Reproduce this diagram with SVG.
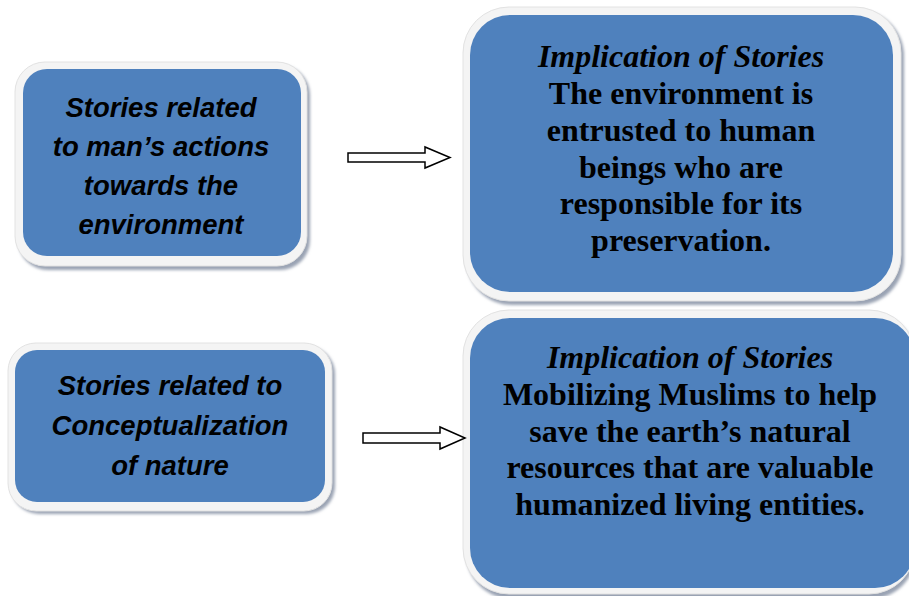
<svg xmlns="http://www.w3.org/2000/svg" width="909" height="596" viewBox="0 0 909 596">
<defs>
<filter id="sh" x="-5%" y="-5%" width="115%" height="115%">
<feGaussianBlur stdDeviation="1.5"/>
</filter>
</defs>
<style>
.shadow{fill:#9aa3b3;filter:url(#sh)}
.frame{fill:#f4f4f4;stroke:#e2e2e2;stroke-width:1}
.box{fill:#4f81bd}
.sans{font-family:"Liberation Sans",Arial,sans-serif;font-weight:bold;font-style:italic;font-size:27.5px;fill:#000;text-anchor:middle}
.serif{font-family:"Liberation Serif","Times New Roman",serif;font-weight:bold;font-size:32px;fill:#000;text-anchor:middle}
.it{font-style:italic}
.arrow{fill:#fff;stroke:#000;stroke-width:1.5;stroke-linejoin:miter}
</style>
<rect width="909" height="596" fill="#fff"/>
<g id="node1">
<rect class="shadow" x="18" y="65" width="292" height="205" rx="30"/>
<rect class="frame" x="15" y="62" width="292" height="204" rx="30"/>
<rect class="box" x="23" y="69" width="278" height="187" rx="24"/>
<text class="sans"><tspan x="161" y="117">Stories related</tspan><tspan x="161" y="156">to man’s actions</tspan><tspan x="161" y="195">towards the</tspan><tspan x="161" y="234">environment</tspan></text>
</g>
<g id="node2">
<rect class="shadow" x="466" y="10" width="438" height="295" rx="46"/>
<rect class="frame" x="463" y="7" width="438" height="294" rx="46"/>
<rect class="box" x="470" y="15" width="423" height="277" rx="40"/>
<text class="serif"><tspan class="it" x="681" y="67">Implication of Stories</tspan><tspan x="681" y="104">The environment is</tspan><tspan x="681" y="141">entrusted to human</tspan><tspan x="681" y="178">beings who are</tspan><tspan x="681" y="214">responsible for its</tspan><tspan x="681" y="251">preservation.</tspan></text>
</g>
<g id="node3">
<rect class="shadow" x="11" y="346" width="324" height="168" rx="28"/>
<rect class="frame" x="8" y="343" width="324" height="168" rx="28"/>
<rect class="box" x="15" y="350" width="310" height="152" rx="22"/>
<text class="sans"><tspan x="170" y="395">Stories related to</tspan><tspan x="170" y="435">Conceptualization</tspan><tspan x="170" y="475">of nature</tspan></text>
</g>
<g id="node4">
<rect class="shadow" x="466" y="313" width="450" height="286" rx="46"/>
<rect class="frame" x="463" y="310" width="452" height="284" rx="46"/>
<rect class="box" x="470" y="318" width="445" height="270" rx="40"/>
<text class="serif"><tspan class="it" x="690" y="368">Implication of Stories</tspan><tspan x="690" y="405">Mobilizing Muslims to help</tspan><tspan x="690" y="442">save the earth’s natural</tspan><tspan x="690" y="478">resources that are valuable</tspan><tspan x="690" y="515">humanized living entities.</tspan></text>
</g>
<g id="connectors">
<path class="arrow" d="M348,153 H425 V147 L450,157.5 L425,168 V162 H348 Z"/>
<path class="arrow" d="M363,433 H440 V427 L465,438 L440,449 V443 H363 Z"/>
</g>
</svg>
